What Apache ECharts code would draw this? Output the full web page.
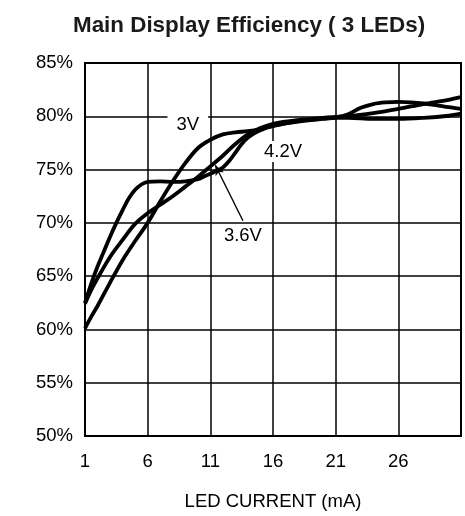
<!DOCTYPE html>
<html>
<head>
<meta charset="utf-8">
<script src="https://cdn.jsdelivr.net/npm/echarts@6/dist/echarts.min.js"></script>
<style>
html,body{margin:0;padding:0;background:#fff;}
#chart{width:465px;height:516px;}
</style>
</head>
<body>
<div id="chart"></div>
<script>
// LED current (mA) sample positions and efficiency (%) for each supply voltage
var xTicks = [1, 6, 11, 16, 21, 26];
var yTicks = [50, 55, 60, 65, 70, 75, 80, 85];

var x4v2 = [1, 1.5, 2, 2.5, 3, 3.5, 4, 4.5, 5, 5.5, 6, 7, 8, 9, 10, 10.5, 11, 11.5, 12, 12.5, 13, 13.5, 14, 14.5, 15, 16, 18, 20, 21, 22, 23, 24, 25, 26, 27, 28, 29, 30, 31];
var y4v2 = [62.5, 64.3, 65.9, 67.3, 68.7, 70.0, 71.2, 72.3, 73.1, 73.6, 73.85, 73.9, 73.85, 73.9, 74.1, 74.35, 74.6, 74.9, 75.2, 75.8, 76.6, 77.4, 78.0, 78.4, 78.7, 79.1, 79.55, 79.8, 79.9, 80.2, 80.8, 81.15, 81.3, 81.35, 81.3, 81.2, 81.05, 80.85, 80.7];

var x3v = [1, 1.5, 2, 3, 4, 5, 6, 7, 8, 9, 10, 11, 12, 13, 14, 15, 16, 18, 20, 21, 22, 24, 26, 28, 30, 31];
var y3v = [60.1, 61.2, 62.2, 64.4, 66.5, 68.3, 70.0, 72.0, 73.9, 75.6, 77.0, 77.8, 78.3, 78.5, 78.6, 78.8, 79.1, 79.5, 79.75, 79.85, 79.85, 79.75, 79.75, 79.85, 80.05, 80.25];

var x3v6 = [1, 1.5, 2, 3, 4, 5, 6, 7, 8, 9, 10, 11, 12, 13, 14, 15, 16, 18, 20, 21, 22, 24, 26, 28, 30, 31];
var y3v6 = [62.4, 63.7, 64.8, 66.8, 68.4, 69.9, 70.9, 71.7, 72.5, 73.4, 74.3, 75.3, 76.3, 77.4, 78.3, 78.9, 79.3, 79.65, 79.85, 79.95, 80.0, 80.3, 80.7, 81.15, 81.55, 81.8];

// annotation anchors in data space
var label3V = [9.2, 79.15];
var label42V = [16.8, 76.7];
var label36V = [13.6, 68.75];
var arrow36V = [[13.6, 70.2], [11.4, 75.4]];

function pairs(xs, ys) { return xs.map(function (x, i) { return [x, ys[i]]; }); }

var FONT = '"Liberation Sans", Arial, sans-serif';
var FS = 18.5;
var chart = echarts.init(document.getElementById('chart'), null, {renderer: 'canvas'});
var lineStyle = {color: '#000', width: 3.8};

chart.setOption({
  animation: false,
  backgroundColor: '#fff',
  title: {
    text: 'Main Display Efficiency ( 3 LEDs)',
    left: 68, top: 10,
    textStyle: {fontFamily: FONT, fontSize: 22.4, fontWeight: 'bold', color: '#1a1a1a'}
  },
  grid: {left: 85, right: 4, top: 63, bottom: 80, show: true, borderColor: '#000', borderWidth: 2, backgroundColor: 'transparent'},
  xAxis: {
    type: 'value', min: 1, max: 31,
    name: 'LED CURRENT (mA)', nameLocation: 'middle', nameGap: 56,
    nameTextStyle: {fontFamily: FONT, fontSize: FS, color: '#000'},
    axisLine: {show: true, lineStyle: {color: '#000', width: 2}},
    axisTick: {show: false, customValues: xTicks},
    axisLabel: {customValues: xTicks, margin: 16, fontFamily: FONT, fontSize: FS, color: '#000'},
    splitLine: {show: true, lineStyle: {color: '#000', width: 1.5}}
  },
  yAxis: {
    type: 'value', min: 50, max: 85, interval: 5,
    axisLine: {show: true, lineStyle: {color: '#000', width: 2}},
    axisTick: {show: false},
    axisLabel: {formatter: '{value}%', margin: 12, fontFamily: FONT, fontSize: FS, color: '#000'},
    splitLine: {show: true, lineStyle: {color: '#000', width: 1.5}}
  },
  series: [
    {name: '4.2V', type: 'line', data: pairs(x4v2, y4v2), smooth: 0.35, symbol: 'none', lineStyle: lineStyle},
    {name: '3V', type: 'line', data: pairs(x3v, y3v), smooth: 0.35, symbol: 'none', lineStyle: lineStyle},
    {name: '3.6V', type: 'line', data: pairs(x3v6, y3v6), smooth: 0.35, symbol: 'none', lineStyle: lineStyle,
     markLine: {
       silent: true, symbol: ['none', 'arrow'], symbolSize: [7, 10],
       lineStyle: {color: '#000', width: 1.4, type: 'solid'},
       label: {show: false},
       data: [[{coord: arrow36V[0]}, {coord: arrow36V[1]}]]
     },
     markPoint: {
       silent: true, symbol: 'rect', symbolSize: 0,
       data: [
         {coord: label3V, value: '3V', label: {padding: [8, 9, 1, 9]}},
         {coord: label42V, value: '4.2V', label: {padding: [1, 2, 1, 2]}},
         {coord: label36V, value: '3.6V', label: {padding: [1, 2, 1, 2]}}
       ],
       label: {show: true, position: 'inside', formatter: '{c}', fontFamily: FONT, fontSize: FS, color: '#000', backgroundColor: '#fff'}
     }
    }
  ]
});
</script>
</body>
</html>
